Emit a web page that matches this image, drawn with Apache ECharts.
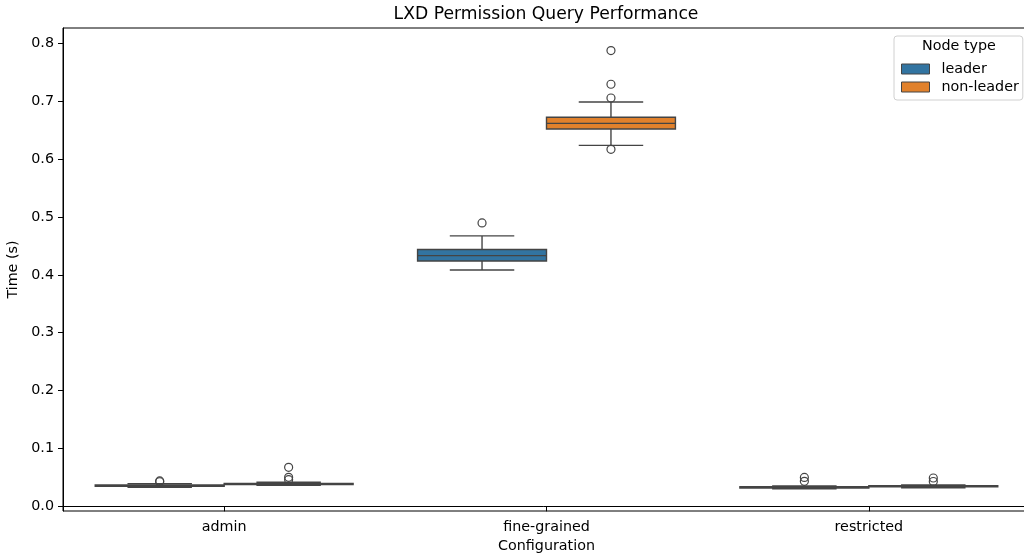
<!DOCTYPE html>
<html>
<head>
<meta charset="utf-8">
<script src="https://cdn.jsdelivr.net/npm/echarts@6/dist/echarts.min.js"></script>
<style>
html,body{margin:0;padding:0;background:#fff;}
#chart{width:1024px;height:560px;}
</style>
</head>
<body>
<div id="chart"></div>
<script>
// ---- data ----
const categories = ['admin', 'fine-grained', 'restricted'];
const seriesNames = ['leader', 'non-leader'];
// [min whisker, Q1, median, Q3, max whisker] per category
const leaderStats = [
  [0.0330, 0.0348, 0.0358, 0.0368, 0.0392],
  [0.4084, 0.4240, 0.4333, 0.4438, 0.4673],
  [0.0305, 0.0318, 0.0328, 0.0338, 0.0352]
];
const nonLeaderStats = [
  [0.0365, 0.0378, 0.0388, 0.0398, 0.0418],
  [0.6237, 0.6520, 0.6618, 0.6722, 0.6987],
  [0.0322, 0.0336, 0.0346, 0.0356, 0.0372]
];
// outliers per category
const leaderOutliers = [
  [0.0425, 0.0440],
  [0.4898],
  [0.0433, 0.0500]
];
const nonLeaderOutliers = [
  [0.0462, 0.0502, 0.0675],
  [0.7875, 0.7293, 0.7056, 0.6168],
  [0.0430, 0.0490]
];
const yTicks = [0.0, 0.1, 0.2, 0.3, 0.4, 0.5, 0.6, 0.7, 0.8];

// ---- styles ----
const FONT = 'DejaVu Sans';
const FS = 14.3;
const LINE = '#444444';
const colors = ['#3274a1', '#e1812c'];

function boxRows(stats) {
  return stats.map((s, i) => [i].concat(s));
}
function outlierRows(outs) {
  const rows = [];
  outs.forEach((arr, i) => arr.forEach(v => rows.push([i, v])));
  return rows;
}

function boxRenderer(offsetFrac, color) {
  return function (params, api) {
    const x = api.value(0);
    const band = api.size([1, 0])[0];
    const w = band * 0.4;
    const cx = api.coord([x, 0])[0] + offsetFrac * band;
    const yMin = api.coord([x, api.value(1)])[1];
    const yQ1 = api.coord([x, api.value(2)])[1];
    const yMed = api.coord([x, api.value(3)])[1];
    const yQ3 = api.coord([x, api.value(4)])[1];
    const yMax = api.coord([x, api.value(5)])[1];
    const capHalf = w / 4;
    const ls = { stroke: LINE, lineWidth: 1.4 };
    return {
      type: 'group',
      children: [
        { type: 'line', shape: { x1: cx, y1: yQ3, x2: cx, y2: yMax }, style: ls },
        { type: 'line', shape: { x1: cx, y1: yQ1, x2: cx, y2: yMin }, style: ls },
        { type: 'line', shape: { x1: cx - capHalf, y1: yMax, x2: cx + capHalf, y2: yMax }, style: ls },
        { type: 'line', shape: { x1: cx - capHalf, y1: yMin, x2: cx + capHalf, y2: yMin }, style: ls },
        { type: 'rect', shape: { x: cx - w / 2, y: yQ3, width: w, height: yQ1 - yQ3 },
          style: { fill: color, stroke: LINE, lineWidth: 1.4 } },
        { type: 'line', shape: { x1: cx - w / 2, y1: yMed, x2: cx + w / 2, y2: yMed }, style: ls }
      ]
    };
  };
}
function outlierRenderer(offsetFrac) {
  return function (params, api) {
    const x = api.value(0);
    const band = api.size([1, 0])[0];
    const p = api.coord([x, api.value(1)]);
    return {
      type: 'circle',
      shape: { cx: p[0] + offsetFrac * band, cy: p[1], r: 4 },
      style: { fill: 'none', stroke: LINE, lineWidth: 1.2 }
    };
  };
}

const chart = echarts.init(document.getElementById('chart'), null, { renderer: 'canvas' });
chart.setOption({
  animation: false,
  backgroundColor: '#ffffff',
  textStyle: { fontFamily: FONT },
  title: [{
    text: 'LXD Permission Query Performance',
    left: 546, top: 6, textAlign: 'center', padding: 0,
    textStyle: { fontFamily: FONT, fontSize: 17.2, fontWeight: 'normal', color: '#000' }
  }, {
    text: 'Node type',
    left: 959, top: 39, textAlign: 'center', padding: 0,
    textStyle: { fontFamily: FONT, fontSize: FS, fontWeight: 'normal', color: '#000' },
    z: 10
  }],
  legend: {
    data: seriesNames,
    orient: 'vertical',
    left: 894, top: 36,
    padding: [26, 4, 6, 7],
    itemGap: 4,
    itemWidth: 28, itemHeight: 10,
    icon: 'rect',
    itemStyle: { borderColor: LINE, borderWidth: 1 },
    backgroundColor: 'rgba(255,255,255,0.8)',
    borderColor: '#d0d0d0', borderWidth: 1, borderRadius: 3,
    textStyle: { fontFamily: FONT, fontSize: FS, color: '#000', padding: [0, 0, 0, 7] }
  },
  grid: { left: 63, top: 28, width: 967, bottom: 49, show: true, borderColor: '#000', borderWidth: 1,
    containLabel: false, outerBoundsMode: 'none' },
  xAxis: {
    type: 'category',
    data: categories,
    boundaryGap: true,
    name: 'Configuration',
    nameLocation: 'middle',
    nameGap: 28,
    nameTextStyle: { fontFamily: FONT, fontSize: FS, color: '#000' },
    axisLine: { lineStyle: { color: '#000', width: 1 } },
    axisTick: { show: true, alignWithLabel: true, length: 5, lineStyle: { color: '#000' } },
    axisLabel: { fontFamily: FONT, fontSize: FS, color: '#000', margin: 9 },
    splitLine: { show: false }
  },
  yAxis: {
    type: 'value',
    min: -0.008, max: 0.8265,
    name: 'Time (s)',
    nameLocation: 'middle',
    nameRotate: 90,
    nameGap: 38,
    nameTextStyle: { fontFamily: FONT, fontSize: FS, color: '#000' },
    axisLine: { show: true, lineStyle: { color: '#000', width: 1 } },
    axisTick: { show: true, length: 5, lineStyle: { color: '#000' }, customValues: yTicks },
    axisLabel: { fontFamily: FONT, fontSize: FS, color: '#000', margin: 9,
      customValues: yTicks, formatter: v => v.toFixed(1) },
    splitLine: { show: false }
  },
  series: [
    { name: 'leader', type: 'custom', renderItem: boxRenderer(-0.2, colors[0]),
      itemStyle: { color: colors[0] }, encode: { x: 0, y: [1, 2, 3, 4, 5] },
      data: boxRows(leaderStats), z: 2 },
    { name: 'non-leader', type: 'custom', renderItem: boxRenderer(0.2, colors[1]),
      itemStyle: { color: colors[1] }, encode: { x: 0, y: [1, 2, 3, 4, 5] },
      data: boxRows(nonLeaderStats), z: 2 },
    { name: 'leader outliers', type: 'custom', renderItem: outlierRenderer(-0.2),
      encode: { x: 0, y: 1 }, data: outlierRows(leaderOutliers), z: 3 },
    { name: 'non-leader outliers', type: 'custom', renderItem: outlierRenderer(0.2),
      encode: { x: 0, y: 1 }, data: outlierRows(nonLeaderOutliers), z: 3 }
  ]
});
</script>
</body>
</html>
